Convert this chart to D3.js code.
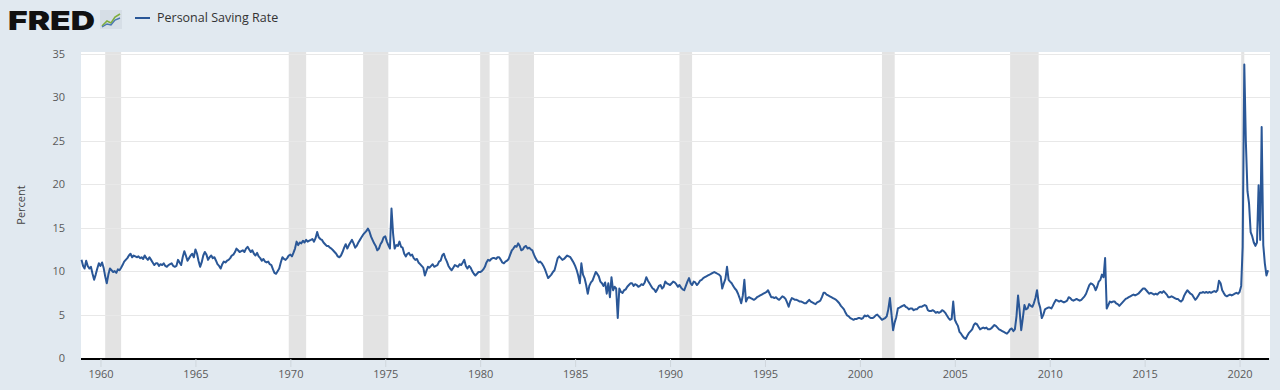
<!DOCTYPE html>
<html>
<head>
<meta charset="utf-8">
<script src="https://cdn.jsdelivr.net/npm/d3@7"></script>
<style>
  html, body { margin: 0; padding: 0; background: #e1e9f0; }
  svg { display: block; font-family: "Open Sans", "Noto Sans", sans-serif; }
</style>
</head>
<body>
<div id="chart"></div>
<script>
// monthly personal saving rate, Jan 1959 .. Jul 2021 (one row per year)
const firstYear = 1959
const savingRate = [
  11.3, 10.6, 10.3, 11.2, 10.6, 10.3, 10.5, 9.7, 9.0, 9.6, 10.3, 10.9,   // 1959
  10.6, 11.0, 10.4, 9.4, 8.6, 9.6, 10.3, 10.1, 9.9, 10.0, 9.8, 10.2,     // 1960
  10.1, 10.4, 10.7, 11.1, 11.3, 11.5, 11.8, 12.0, 11.6, 11.8, 11.7, 11.6,
  11.7, 11.5, 11.6, 11.4, 11.8, 11.5, 11.3, 11.6, 11.3, 11.0, 10.7, 10.9,
  10.9, 10.6, 10.8, 10.7, 10.9, 10.6, 10.5, 10.7, 10.8, 10.9, 10.6, 10.5,
  10.6, 11.3, 11.0, 10.7, 11.6, 12.3, 11.8, 11.2, 11.5, 11.8, 12.0, 11.6,
  12.5, 12.0, 11.2, 10.5, 11.0, 11.8, 12.2, 11.9, 11.3, 11.6, 11.8, 11.5, // 1965
  11.6, 11.2, 10.8, 10.6, 10.3, 10.8, 11.1, 11.0, 11.2, 11.3, 11.5, 11.8,
  11.9, 12.2, 12.6, 12.4, 12.2, 12.3, 12.4, 12.2, 12.6, 12.8, 12.5, 12.2,
  12.4, 12.0, 11.8, 12.1, 11.7, 11.5, 11.2, 11.4, 11.1, 11.0, 11.1, 10.8,
  10.7, 10.2, 9.8, 9.7, 10.0, 10.3, 11.0, 11.6, 11.4, 11.3, 11.5, 11.8,
  11.9, 11.7, 12.1, 12.6, 13.4, 13.0, 13.3, 13.2, 13.5, 13.3, 13.6, 13.4, // 1970
  13.5, 13.6, 13.7, 13.4, 13.8, 14.5, 13.9, 13.7, 13.6, 13.3, 13.1, 12.9,
  12.9, 12.7, 12.6, 12.4, 12.2, 12.0, 11.7, 11.6, 11.8, 12.2, 12.7, 13.1,
  12.6, 13.0, 13.3, 13.6, 13.2, 12.7, 12.9, 13.3, 13.6, 13.9, 14.2, 14.4,
  14.6, 14.9, 14.6, 14.0, 13.6, 13.2, 12.9, 12.4, 12.6, 13.1, 13.4, 13.9,
  14.0, 13.4, 13.0, 12.6, 17.2, 14.3, 12.6, 13.0, 12.9, 13.4, 12.8, 12.7, // 1975
  12.0, 11.7, 12.0, 12.1, 11.8, 11.9, 11.5, 11.3, 11.4, 11.0, 10.8, 10.6,
  10.4, 9.5, 10.0, 10.5, 10.4, 10.6, 10.8, 10.5, 10.6, 10.7, 11.1, 11.2,
  11.8, 12.0, 11.5, 11.1, 10.6, 10.3, 10.1, 10.4, 10.7, 10.6, 10.5, 10.8,
  10.7, 11.0, 11.3, 10.6, 10.3, 10.6, 10.4, 10.0, 9.7, 9.5, 9.7, 9.9,
  9.9, 10.0, 10.2, 10.5, 11.0, 11.3, 11.2, 11.4, 11.5, 11.5, 11.4, 11.6,  // 1980
  11.6, 11.3, 11.0, 10.9, 11.1, 11.2, 11.4, 11.9, 12.4, 12.6, 12.9, 12.8,
  13.2, 12.9, 12.4, 12.5, 12.8, 12.9, 12.6, 12.7, 12.5, 12.4, 11.9, 11.5,
  11.2, 11.0, 11.1, 10.9, 10.6, 10.2, 9.7, 9.2, 9.4, 9.6, 9.9, 10.1,
  10.8, 11.5, 11.7, 11.5, 11.3, 11.4, 11.6, 11.8, 11.7, 11.6, 11.3, 11.0,
  10.6, 10.1, 9.5, 8.6, 10.9, 9.6, 9.2, 8.4, 7.4, 8.3, 8.7, 8.9,         // 1985
  9.4, 9.9, 9.7, 9.4, 8.8, 8.6, 8.3, 8.7, 7.4, 8.6, 7.0, 9.3,
  7.8, 8.2, 8.0, 4.6, 8.0, 7.6, 7.5, 7.8, 7.9, 8.2, 8.4, 8.6,
  8.6, 8.3, 8.5, 8.4, 8.2, 8.3, 8.5, 8.4, 8.7, 9.3, 8.9, 8.6,
  8.3, 8.0, 7.9, 7.6, 7.9, 8.3, 8.4, 8.0, 8.2, 8.8, 8.6, 8.5,
  8.4, 8.6, 8.8, 8.7, 8.5, 8.2, 8.4, 8.1, 7.9, 7.8, 8.3, 8.8,            // 1990
  9.2, 8.6, 8.4, 8.8, 8.7, 8.4, 8.6, 8.9, 9.0, 9.2, 9.3, 9.4,
  9.5, 9.6, 9.7, 9.8, 9.9, 9.8, 9.7, 9.6, 9.4, 8.0, 8.6, 9.1,
  10.5, 9.0, 8.8, 8.6, 8.3, 8.0, 7.8, 7.4, 6.9, 6.3, 7.2, 9.0,
  6.5, 6.9, 7.0, 6.9, 6.8, 6.7, 6.8, 7.0, 7.1, 7.2, 7.3, 7.4,
  7.5, 7.6, 7.8, 7.4, 7.0, 7.0, 6.9, 7.0, 6.8, 6.7, 6.9, 7.1,            // 1995
  7.0, 6.8, 6.4, 5.9, 6.5, 6.9, 6.8, 6.7, 6.7, 6.6, 6.5, 6.5,
  6.4, 6.3, 6.3, 6.5, 6.7, 6.5, 6.4, 6.3, 6.2, 6.4, 6.5, 6.6,
  7.0, 7.5, 7.5, 7.3, 7.2, 7.1, 7.0, 6.9, 6.8, 6.7, 6.5, 6.3,
  6.0, 5.8, 5.6, 5.2, 4.9, 4.8, 4.6, 4.5, 4.4, 4.5, 4.5, 4.6,
  4.6, 4.5, 4.6, 4.9, 4.8, 4.9, 4.7, 4.6, 4.6, 4.7, 4.9, 5.0,            // 2000
  4.8, 4.6, 4.4, 4.5, 4.6, 4.8, 5.6, 6.9, 5.0, 3.2, 4.1, 4.7,
  5.7, 5.8, 5.9, 6.0, 6.1, 5.9, 5.8, 5.6, 5.7, 5.7, 5.5, 5.6,
  5.6, 5.8, 5.9, 5.9, 6.0, 6.1, 6.0, 5.5, 5.4, 5.4, 5.5, 5.4,
  5.2, 5.3, 5.2, 5.3, 5.5, 5.4, 5.2, 4.9, 4.6, 4.4, 4.5, 6.5,
  4.4, 4.0, 3.7, 3.0, 2.8, 2.5, 2.3, 2.2, 2.6, 2.9, 3.1, 3.3,            // 2005
  3.8, 4.0, 3.9, 3.6, 3.3, 3.4, 3.5, 3.4, 3.5, 3.3, 3.3, 3.4,
  3.6, 3.8, 3.7, 3.5, 3.3, 3.2, 3.1, 3.0, 2.9, 2.8, 3.0, 3.3,
  3.4, 3.1, 3.3, 4.8, 7.2, 5.4, 3.2, 4.6, 6.1, 5.6, 5.7, 6.2,
  6.0, 5.9, 6.3, 6.9, 7.8, 6.4, 5.8, 4.6, 5.0, 5.6, 5.7, 5.8,
  5.8, 5.7, 6.0, 6.4, 6.7, 6.6, 6.5, 6.6, 6.5, 6.4, 6.5, 6.6,            // 2010
  7.0, 6.9, 6.7, 6.6, 6.7, 6.8, 6.7, 6.6, 6.7, 6.9, 7.1, 7.4,
  7.9, 8.4, 8.6, 8.5, 8.3, 7.8, 8.2, 8.8, 9.0, 9.6, 9.3, 11.5,
  5.7, 6.1, 6.5, 6.4, 6.5, 6.5, 6.3, 6.2, 6.0, 6.2, 6.4, 6.6,
  6.8, 6.9, 7.0, 7.1, 7.2, 7.3, 7.2, 7.3, 7.4, 7.6, 7.8, 8.0,
  8.0, 7.8, 7.6, 7.4, 7.5, 7.4, 7.3, 7.4, 7.3, 7.5, 7.6, 7.5,            // 2015
  7.7, 7.5, 7.3, 7.0, 7.0, 7.1, 7.0, 6.9, 6.8, 6.8, 6.6, 6.5,
  6.7, 7.2, 7.5, 7.8, 7.6, 7.4, 7.3, 7.0, 6.7, 6.9, 7.2, 7.5,
  7.5, 7.6, 7.5, 7.6, 7.5, 7.6, 7.5, 7.6, 7.7, 7.6, 7.8, 8.9,
  8.6, 7.8, 7.5, 7.2, 7.1, 7.2, 7.3, 7.2, 7.3, 7.4, 7.5, 7.4,
  7.6, 8.3, 12.8, 33.8, 24.9, 19.2, 17.8, 14.5, 14.0, 13.3, 12.9, 13.3,  // 2020
  19.9, 13.6, 26.6, 13.0, 10.9, 9.5, 10.1                                // 2021
]

const recessionStart = ['1960-04', '1969-12', '1973-11', '1980-01', '1981-07', '1990-07', '2001-03', '2007-12', '2020-02']
const recessionEnd   = ['1961-02', '1970-11', '1975-03', '1980-07', '1982-11', '1991-03', '2001-11', '2009-06', '2020-04']
const yTicks = [0, 5, 10, 15, 20, 25, 30, 35]
const xTickYears = [1960, 1965, 1970, 1975, 1980, 1985, 1990, 1995, 2000, 2005, 2010, 2015, 2020]

const W = 1280, H = 390
const plot = { left: 81, right: 1270, top: 52, bottom: 358 }
const lineColor = '#2a5797'

const parseMonth = d3.timeParse('%Y-%m')
const data = savingRate.map((v, i) => ({ date: new Date(firstYear + Math.floor(i / 12), i % 12, 1), value: v }))

const svg = d3.select('#chart').append('svg')
  .attr('width', W)
  .attr('height', H)

svg.append('rect').attr('width', W).attr('height', H).attr('fill', '#e1e9f0')

const x = d3.scaleTime()
  .domain(d3.extent(data, d => d.date))
  .range([plot.left + 0.5, plot.right - 2])
const y = d3.scaleLinear()
  .domain([0, 35])
  .range([plot.bottom, plot.top + 2])

// plot background
svg.append('rect')
  .attr('x', plot.left).attr('y', plot.top)
  .attr('width', plot.right - plot.left).attr('height', plot.bottom - plot.top)
  .attr('fill', '#ffffff')

// recession bars
svg.selectAll('.recession')
  .data(recessionStart)
  .enter()
  .append('rect')
  .attr('class', 'recession')
  .attr('x', d => x(parseMonth(d)))
  .attr('y', plot.top)
  .attr('width', (d, i) => Math.max(2, x(parseMonth(recessionEnd[i])) - x(parseMonth(d))))
  .attr('height', plot.bottom - plot.top)
  .attr('fill', '#e3e3e3')

// horizontal grid
svg.selectAll('.grid')
  .data(yTicks.filter(t => t > 0))
  .enter()
  .append('line')
  .attr('x1', plot.left).attr('x2', plot.right)
  .attr('y1', d => Math.round(y(d)) + 0.5).attr('y2', d => Math.round(y(d)) + 0.5)
  .style('stroke', '#e8e8e8')
  .style('stroke-width', 1)

// y axis labels
const yAxis = svg.append('g')
  .attr('transform', `translate(${plot.left - 16},0)`)
  .call(d3.axisLeft(y).tickValues(yTicks).tickSize(0).tickPadding(0))
yAxis.select('.domain').remove()
yAxis.selectAll('text')
  .attr('fill', '#5a5a5a')
  .style('font-size', '11px')
  .style('font-family', '"Open Sans", sans-serif')

svg.append('text')
  .attr('transform', `translate(25,${(plot.top + plot.bottom) / 2}) rotate(-90)`)
  .attr('text-anchor', 'middle')
  .attr('fill', '#444')
  .style('font-size', '11px')
  .text('Percent')

// x axis
const xAxis = svg.append('g')
  .attr('transform', `translate(0,${plot.bottom + 1})`)
  .call(d3.axisBottom(x)
    .tickValues(xTickYears.map(yr => new Date(yr, 0, 1)))
    .tickFormat(d3.timeFormat('%Y'))
    .tickSize(8)
    .tickPadding(3))
xAxis.select('.domain')
  .attr('d', `M${plot.left},0H${plot.right - 1}`)
  .attr('stroke', '#000')
  .attr('stroke-width', 2.2)
xAxis.selectAll('.tick line').attr('stroke', '#cfd6dc')
xAxis.selectAll('text')
  .attr('fill', '#5a5a5a')
  .style('font-size', '11px')
  .style('font-family', '"Open Sans", sans-serif')

// series
const line = d3.line()
  .x(d => x(d.date))
  .y(d => y(d.value))
svg.append('path')
  .datum(data)
  .attr('d', line)
  .attr('fill', 'none')
  .attr('stroke', lineColor)
  .attr('stroke-width', 2)
  .attr('stroke-linejoin', 'round')

// header: FRED logo + legend
svg.append('text')
  .attr('x', 8).attr('y', 30)
  .attr('textLength', 87)
  .attr('lengthAdjust', 'spacingAndGlyphs')
  .attr('fill', '#111')
  .style('font-family', 'Inter, Roboto, "DejaVu Sans", sans-serif')
  .style('font-weight', 900)
  .style('font-size', '26px')
  .text('FRED')

const icon = svg.append('g').attr('transform', 'translate(100,10)')
icon.append('rect').attr('width', 22).attr('height', 19).attr('fill', '#d6dee6')
icon.append('polyline')
  .attr('points', '2,16 7,11 11,13 15,7 20,4')
  .attr('fill', 'none').attr('stroke', '#7fae3c').attr('stroke-width', 1.6)
icon.append('polyline')
  .attr('points', '2,17 7,14 11,15 15,10 20,8')
  .attr('fill', 'none').attr('stroke', '#4a78b0').attr('stroke-width', 1.4)

svg.append('line')
  .attr('x1', 135).attr('x2', 150)
  .attr('y1', 18).attr('y2', 18)
  .style('stroke', lineColor)
  .style('stroke-width', 2)
svg.append('text')
  .attr('x', 157).attr('y', 22)
  .attr('fill', '#333')
  .style('font-size', '12.5px')
  .text('Personal Saving Rate')
</script>
</body>
</html>
